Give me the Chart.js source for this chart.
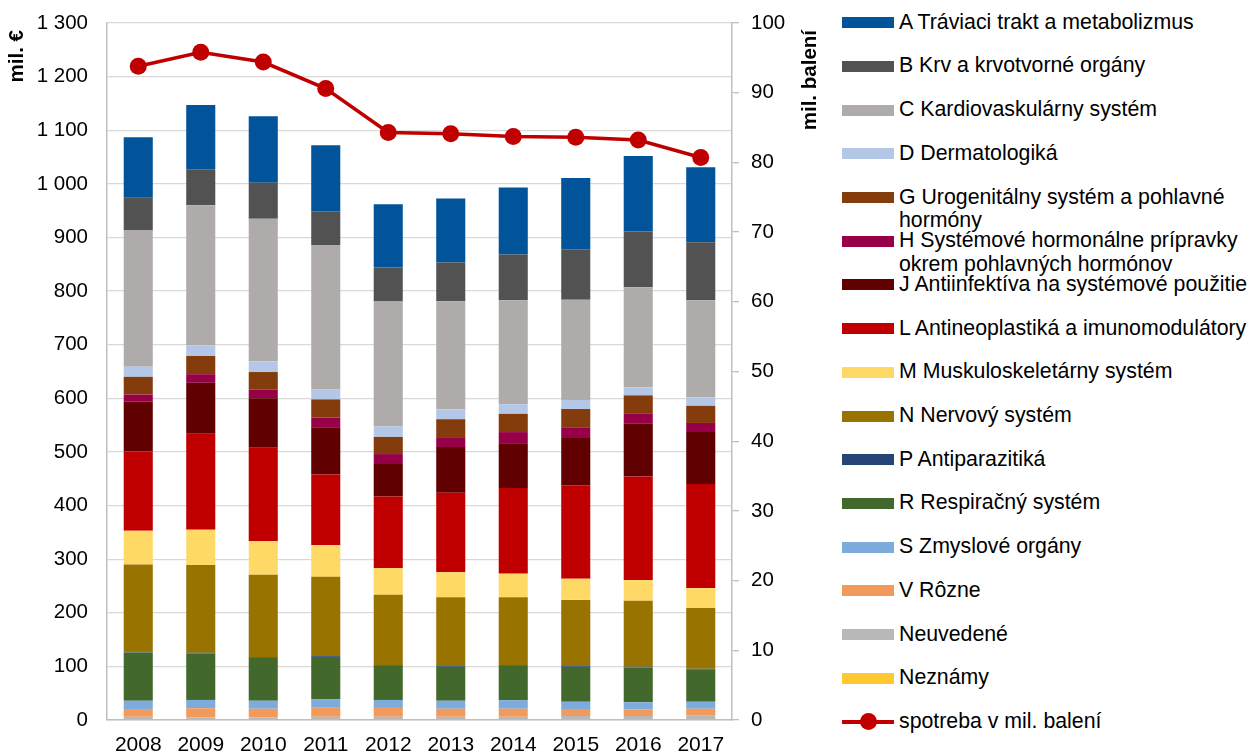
<!DOCTYPE html>
<html lang="sk">
<head>
<meta charset="utf-8">
<title>Spotreba liekov podľa ATC skupín</title>
<script src="https://cdn.jsdelivr.net/npm/chart.js"></script>
<style>
    html, body { margin: 0; padding: 0; background: #fff; }
    body { width: 1251px; height: 753px; overflow: hidden; position: relative;
           font-family: "Liberation Sans", Arial, sans-serif; }
    #chartBox { position: absolute; left: 0; top: 0; width: 835px; height: 753px; }
    #legend { position: absolute; left: 842px; top: 0; }
    .item { position: absolute; left: 0; width: 420px; }
    .swatch { position: absolute; left: 0; top: 6.5px; width: 52px; height: 11px; }
    .txt { position: absolute; left: 57px; top: 0; width: 356px; font-size: 21.3px;
           line-height: 23.4px; color: #000; white-space: normal; }
    .lineSw { position: absolute; left: 0; top: 10.5px; width: 52px; height: 3.5px; background: #c00000; }
    .dot { position: absolute; left: 17.5px; top: 3.5px; width: 17px; height: 17px;
           border-radius: 50%; background: #c00000; }
</style>
</head>
<body>
<div id="chartBox"><canvas id="drugChart"></canvas></div>
<div id="legend"></div>
<script>
// Data (mil. €, stacked by ATC group) and consumption line (mil. balení)
const years = ['2008', '2009', '2010', '2011', '2012', '2013', '2014', '2015', '2016', '2017'];

const valA = [113, 120, 124, 123, 118, 119, 125, 133, 141, 140];
const valB = [60, 67, 67, 63, 63.5, 72.5, 85, 94, 104, 108];
const valC = [255, 261, 266, 269, 233, 202, 194, 187, 186.5, 181];
const valD = [19, 20, 20, 19, 19.5, 18, 18, 17, 15, 16];
const valG = [33, 34, 33, 34, 32, 33.5, 34, 34, 34.5, 32];
const valH = [13, 16, 16, 18, 18.5, 18.5, 21, 20, 18.5, 17];
const valJ = [93, 95, 92, 88, 60.5, 85, 83.5, 88, 98.5, 97];
const valL = [148, 179, 174.5, 132, 133.5, 148.5, 159.5, 174.5, 193, 194];
const valM = [63, 66, 62.5, 59, 50, 46.5, 44, 39.5, 38.5, 37];
const valN = [162, 163.5, 153.5, 148, 131, 128.5, 126.5, 123.5, 123, 113.5];
const valP = [2, 1.5, 1.5, 1.5, 1.5, 1.5, 1.5, 1.5, 1.5, 1.5];
const valR = [90, 86.5, 80, 78.5, 63.5, 63, 64, 65, 65, 60];
const valS = [17, 15.5, 15, 15, 15, 15, 16, 13.5, 13, 13];
const valV = [13, 17, 16, 18, 16.5, 15, 15, 13, 12.5, 12];
const valNeuv = [6, 5, 5, 6, 6, 6, 6, 7.5, 7.5, 9];
const valNezn = [0, 0, 0, 0, 0, 0, 0, 0, 0, 0];

const packs = [93.8, 95.8, 94.4, 90.6, 84.3, 84.1, 83.7, 83.6, 83.2, 80.7];

const leftTicks = [0, 1300, 100];
const rightTicks = [0, 100, 10];

// legend order = top of stack first
const series = [
    { label: 'A Tráviaci trakt a metabolizmus', data: valA, color: '#01539a' },
    { label: 'B Krv a krvotvorné orgány', data: valB, color: '#525252' },
    { label: 'C Kardiovaskulárny systém', data: valC, color: '#afabab' },
    { label: 'D Dermatologiká', data: valD, color: '#b4c7e7' },
    { label: 'G Urogenitálny systém a pohlavné hormóny', data: valG, color: '#843c0c' },
    { label: 'H Systémové hormonálne prípravky okrem pohlavných hormónov', data: valH, color: '#970049' },
    { label: 'J Antiinfektíva na systémové použitie', data: valJ, color: '#600000' },
    { label: 'L Antineoplastiká a imunomodulátory', data: valL, color: '#c00000' },
    { label: 'M Muskuloskeletárny systém', data: valM, color: '#ffd966' },
    { label: 'N Nervový systém', data: valN, color: '#997300' },
    { label: 'P Antiparazitiká', data: valP, color: '#264478' },
    { label: 'R Respiračný systém', data: valR, color: '#43682b' },
    { label: 'S Zmyslové orgány', data: valS, color: '#7cabdc' },
    { label: 'V Rôzne', data: valV, color: '#f19a5b' },
    { label: 'Neuvedené', data: valNeuv, color: '#b8b8b8' },
    { label: 'Neznámy', data: valNezn, color: '#ffc930' }
];
const lineLabel = 'spotreba v mil. balení';

const FONT = '"Liberation Sans", Arial, sans-serif';

function spaceThousands(v) {
    if (v >= 1000) return Math.floor(v / 1000) + ' ' + String(v % 1000).padStart(3, '0');
    return String(v);
}

// axis titles sit at the top of each axis, so draw them ourselves
const axisTitles = {
    id: 'axisTitles',
    afterDraw(chart) {
        const ctx = chart.ctx;
        const top = chart.chartArea.top + 7;
        ctx.save();
        ctx.font = 'bold 20.5px ' + FONT;
        ctx.fillStyle = '#000';
        ctx.textBaseline = 'middle';
        ctx.textAlign = 'right';
        [[17, 'mil. €'], [chart.scales.y1.right - 25, 'mil. balení']].forEach(([x, t]) => {
            ctx.save();
            ctx.translate(x, top);
            ctx.rotate(-Math.PI / 2);
            ctx.fillText(t, 0, 0);
            ctx.restore();
        });
        ctx.restore();
    }
};

// vertical axes: fixed width, no extra padding above the top tick
function fixWidth(w) {
    return function(scale) {
        scale.width = w;
        scale.paddingTop = 0;
        scale.paddingBottom = 0;
    };
}

document.addEventListener('DOMContentLoaded', function() {
    const ctx = document.getElementById('drugChart').getContext('2d');

    const barSets = series.slice().reverse().map(s => ({
        type: 'bar',
        label: s.label,
        data: s.data,
        backgroundColor: s.color,
        borderWidth: 0,
        yAxisID: 'y',
        order: 1,
        barPercentage: 0.465,
        categoryPercentage: 1
    }));

    const lineSet = {
        type: 'line',
        label: lineLabel,
        data: packs,
        yAxisID: 'y1',
        borderColor: '#c00000',
        backgroundColor: '#c00000',
        borderWidth: 3.5,
        pointRadius: 8.5,
        pointBorderWidth: 0,
        pointBackgroundColor: '#c00000',
        tension: 0,
        order: 0
    };

    new Chart(ctx, {
        data: { labels: years, datasets: [lineSet].concat(barSets) },
        plugins: [axisTitles],
        options: {
            responsive: true,
            maintainAspectRatio: false,
            animation: false,
            layout: { padding: { top: 23, left: 0, right: 0, bottom: 0 } },
            plugins: { legend: { display: false }, tooltip: { enabled: false } },
            scales: {
                x: {
                    stacked: true,
                    grid: { display: false, drawTicks: false },
                    border: { color: '#bfbfbf', width: 1.5 },
                    ticks: { color: '#000', font: { family: FONT, size: 21 }, padding: 13, maxRotation: 0 },
                    afterFit(scale) { scale.height = 33; scale.paddingLeft = 0; scale.paddingRight = 0; }
                },
                y: {
                    stacked: true,
                    position: 'left',
                    min: leftTicks[0], max: leftTicks[1],
                    grid: { color: '#d9d9d9', lineWidth: 1.3, drawTicks: false },
                    border: { color: '#bfbfbf', width: 1.5 },
                    ticks: {
                        stepSize: leftTicks[2], color: '#000', padding: 19,
                        font: { family: FONT, size: 20.5 },
                        callback: v => spaceThousands(v)
                    },
                    afterFit: fixWidth(107)
                },
                y1: {
                    position: 'right',
                    min: rightTicks[0], max: rightTicks[1],
                    grid: { drawOnChartArea: false, color: '#bfbfbf', tickLength: 7, lineWidth: 1.3 },
                    border: { color: '#bfbfbf', width: 1.5 },
                    ticks: { stepSize: rightTicks[2], color: '#000', padding: 12, font: { family: FONT, size: 20.5 } },
                    afterFit: fixWidth(103)
                }
            }
        }
    });

    // legend as text next to the chart
    const legend = document.getElementById('legend');
    const step = 43.7, first = 22.7;
    series.forEach((s, i) => {
        const item = document.createElement('div');
        item.className = 'item';
        item.style.top = (first + i * step - 12) + 'px';
        item.innerHTML = '<div class="swatch" style="background:' + s.color + '"></div>' +
                         '<div class="txt">' + s.label + '</div>';
        legend.appendChild(item);
    });
    const li = document.createElement('div');
    li.className = 'item';
    li.style.top = (first + series.length * step - 12) + 'px';
    li.innerHTML = '<div class="lineSw"></div><div class="dot"></div><div class="txt">' + lineLabel + '</div>';
    legend.appendChild(li);
});
</script>
</body>
</html>
